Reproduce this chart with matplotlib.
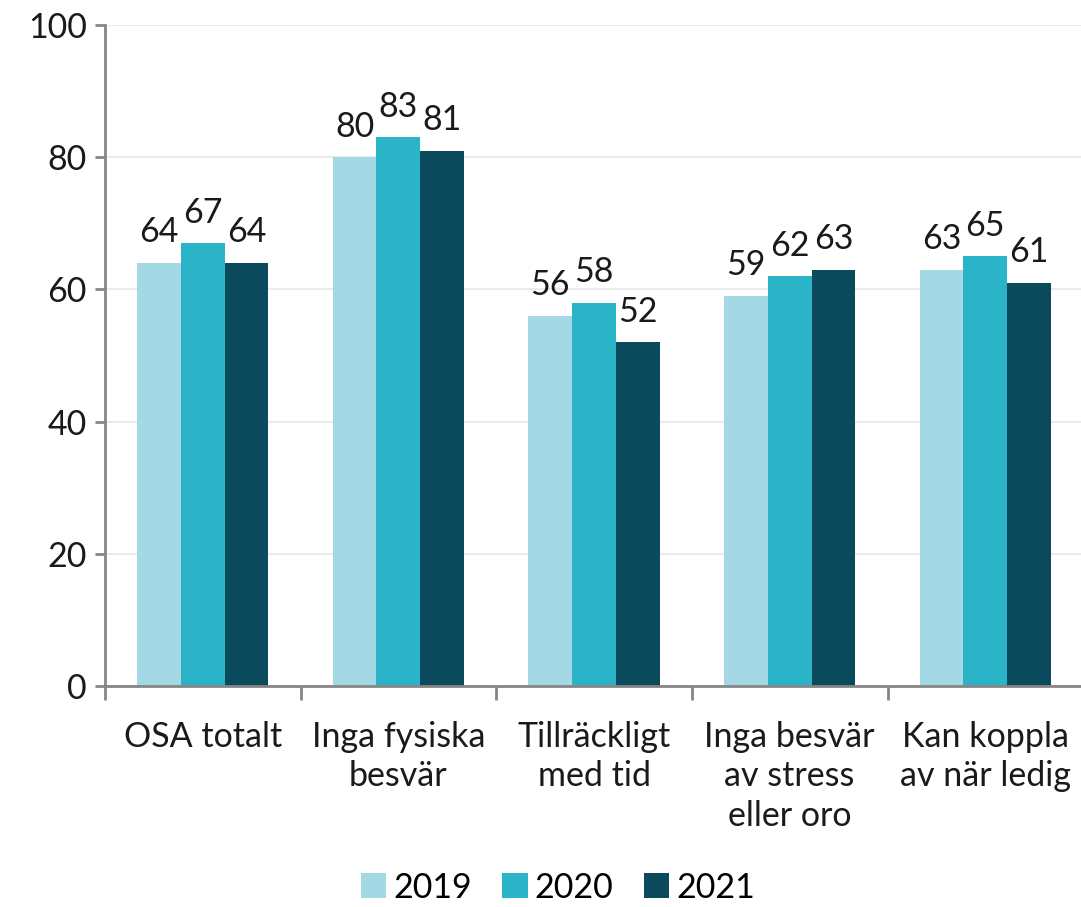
import matplotlib.pyplot as plt
import numpy as np

plt.rcParams['font.family'] = ['Lato', 'DejaVu Sans']

categories = ['OSA totalt', 'Inga fysiska\nbesvär', 'Tillräckligt\nmed tid',
              'Inga besvär\nav stress\neller oro', 'Kan koppla\nav när ledig']
years = ['2019', '2020', '2021']
v2019 = [64, 80, 56, 59, 63]
v2020 = [67, 83, 58, 62, 65]
v2021 = [64, 81, 52, 63, 61]
colors = ['#a5d8e5', '#2bb3c7', '#0b4a5c']

fig = plt.figure(figsize=(10.81, 9.07), dpi=100)
ax = fig.add_axes([0.097, 0.2437, 0.905, 0.7287])

x = np.arange(len(categories))
w = 0.224
fs = 24.5
for i, (vals, yr) in enumerate(zip([v2019, v2020, v2021], years)):
    pos = x + (i - 1) * w
    ax.bar(pos, vals, width=w, color=colors[i], label=yr, zorder=2)
    for px, v in zip(pos, vals):
        ax.text(px, v + 2.2, str(v), ha='center', va='bottom', fontsize=fs, color='#1a1a1a')

ax.set_xlim(-0.5, len(categories) - 0.5)
ax.set_ylim(0, 100)
ax.set_yticks(range(0, 101, 20))
ax.tick_params(axis='y', labelsize=fs, length=7, width=2, color='#868686', pad=6, labelcolor='#1a1a1a')
ax.yaxis.grid(True, color='#ebebeb', linewidth=1.5, zorder=0)
ax.set_axisbelow(True)

ax.set_xticks(np.arange(-0.5, len(categories), 1.0))
ax.set_xticklabels([])
ax.tick_params(axis='x', length=10, width=2, color='#868686')
ax.set_xticks(x, minor=True)
ax.set_xticklabels(categories, minor=True, fontsize=fs, color='#1a1a1a', linespacing=1.3)
ax.tick_params(axis='x', which='minor', length=0, pad=25)

for s in ['top', 'right']:
    ax.spines[s].set_visible(False)
for s in ['left', 'bottom']:
    ax.spines[s].set_color('#868686')
    ax.spines[s].set_linewidth(2)

fig.legend(loc='lower center', bbox_to_anchor=(0.516, -0.03), ncol=3, frameon=False,
           fontsize=fs, handlelength=0.75, handleheight=0.75, handletextpad=0.2, columnspacing=0.9)

fig.savefig('out.png', dpi=100)
